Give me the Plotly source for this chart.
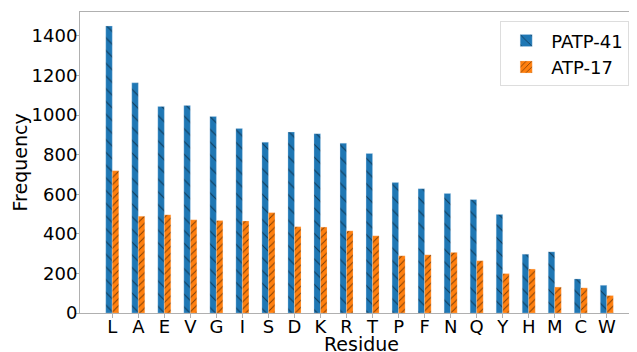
import plotly.graph_objects as go

residues = ["L", "A", "E", "V", "G", "I", "S", "D", "K", "R",
            "T", "P", "F", "N", "Q", "Y", "H", "M", "C", "W"]
patp41 = [1450, 1163, 1044, 1048, 993, 932, 863, 914, 906, 858,
          806, 659, 628, 604, 573, 498, 297, 309, 172, 140]
atp17 = [719, 489, 496, 471, 467, 465, 507, 436, 434, 415,
         390, 289, 294, 306, 264, 199, 222, 131, 127, 88]
yticks = [0, 200, 400, 600, 800, 1000, 1200, 1400]

font = "DejaVu Sans, Liberation Sans, sans-serif"
grey = "#b0b0b0"

fig = go.Figure()
fig.add_trace(go.Bar(
    x=residues, y=patp41, name="PATP-41",
    marker=dict(color="#1f77b4",
                line=dict(color="rgba(200,225,245,0.6)", width=0.5),
                pattern=dict(shape="\\", fgcolor="black", size=9, solidity=0.12)),
))
fig.add_trace(go.Bar(
    x=residues, y=atp17, name="ATP-17",
    marker=dict(color="#ff7f0e",
                line=dict(color="rgba(255,220,190,0.6)", width=0.5),
                pattern=dict(shape="/", fgcolor="black", size=5, solidity=0.2)),
))

# page body has an 8px margin; figure is sized to fill the rest of the window
fig.update_layout(
    width=629, height=344,
    margin=dict(l=72, r=0, t=4, b=39, autoexpand=False),
    paper_bgcolor="white", plot_bgcolor="white",
    barmode="group", bargap=0.5, bargroupgap=0,
    font=dict(family=font, size=18, color="black"),
    showlegend=True,
    legend=dict(x=0.986, y=0.969, xanchor="right", yanchor="top",
                bgcolor="white", bordercolor="#dddddd", borderwidth=1,
                font=dict(size=18), itemwidth=40),
    annotations=[
        dict(text="Residue", xref="paper", yref="paper", x=0.505, y=0,
             yshift=-31, xanchor="center", yanchor="middle", showarrow=False,
             font=dict(size=19)),
        dict(text="Frequency", xref="paper", yref="paper", x=0, y=0.5,
             xshift=-61, xanchor="center", yanchor="middle", textangle=-90,
             showarrow=False, font=dict(size=19)),
    ],
)
fig.update_xaxes(
    range=[-1.24, 20.16], showline=True, linecolor=grey, linewidth=1, mirror=True,
    ticks="outside", ticklen=4, tickcolor=grey, showgrid=False, automargin=False,
    tickfont=dict(size=18), ticklabelstandoff=-7,
)
fig.update_yaxes(
    range=[0, 1521], showline=True, linecolor=grey, linewidth=1,
    ticks="outside", ticklen=4, tickcolor=grey, showgrid=False, zeroline=False,
    tickvals=yticks, automargin=False,
    tickfont=dict(size=18), ticklabelstandoff=-6,
)

fig.write_html("out.html")
